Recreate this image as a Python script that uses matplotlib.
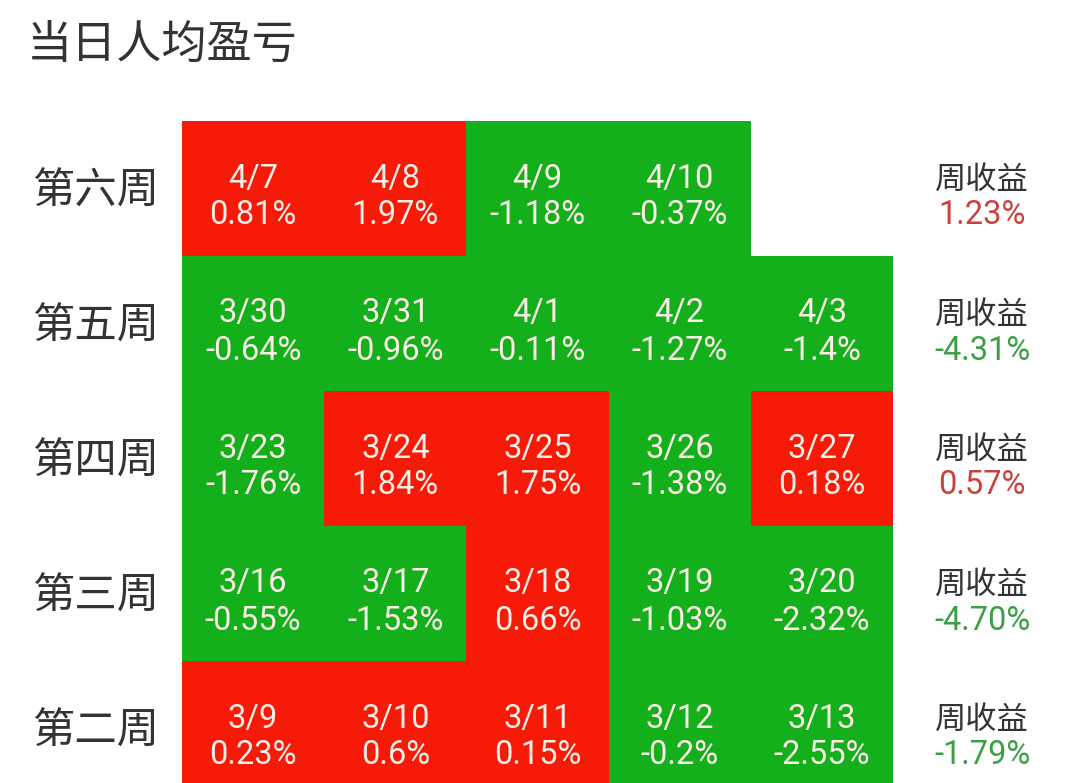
import matplotlib
matplotlib.use("Agg")
import matplotlib.pyplot as plt
import numpy as np
from matplotlib.colors import ListedColormap

plt.rcParams['font.family'] = ['Roboto', 'Noto Sans CJK SC', 'DejaVu Sans']

title = "当日人均盈亏"
weeks = ["第六周", "第五周", "第四周", "第三周", "第二周"]
dates = [
    ["4/7", "4/8", "4/9", "4/10", ""],
    ["3/30", "3/31", "4/1", "4/2", "4/3"],
    ["3/23", "3/24", "3/25", "3/26", "3/27"],
    ["3/16", "3/17", "3/18", "3/19", "3/20"],
    ["3/9", "3/10", "3/11", "3/12", "3/13"],
]
daily = [
    ["0.81", "1.97", "-1.18", "-0.37", None],
    ["-0.64", "-0.96", "-0.11", "-1.27", "-1.4"],
    ["-1.76", "1.84", "1.75", "-1.38", "0.18"],
    ["-0.55", "-1.53", "0.66", "-1.03", "-2.32"],
    ["0.23", "0.6", "0.15", "-0.2", "-2.55"],
]
weekly = ["1.23", "-4.31", "0.57", "-4.70", "-1.79"]
summary_label = "周收益"

RED = "#f81a08"
GREEN = "#14b01c"
TXT_RED = "#c9413b"
TXT_GREEN = "#3c9f45"
CELL_TXT = "#fbeee6"
DARK = "#333333"

W, H = 1080, 783
fig = plt.figure(figsize=(W / 100, H / 100), dpi=100)
fig.patch.set_facecolor("white")

# grid area in pixels
x0, x1 = 182, 893
y_top, row_h = 121, 135
nrows, ncols = len(weeks), 5
y_bot = y_top + nrows * row_h
ax = fig.add_axes([x0 / W, (H - y_bot) / H, (x1 - x0) / W, (y_bot - y_top) / H])
ax.set_xlim(0, ncols)
ax.set_ylim(nrows, 0)
ax.axis("off")

vals = np.array([[np.nan if v is None else float(v) for v in row] for row in daily])
sign = np.where(np.isnan(vals), np.nan, np.where(vals >= 0, 1.0, 0.0))
cmap = ListedColormap([GREEN, RED])
ax.pcolormesh(np.arange(ncols + 1), np.arange(nrows + 1), np.ma.masked_invalid(sign),
              cmap=cmap, vmin=0, vmax=1, edgecolors="none")

px = 1.0 / row_h  # data units per pixel vertically
col_w = (x1 - x0) / ncols
FS = 23.5
for r in range(nrows):
    for c in range(ncols):
        if daily[r][c] is None:
            continue
        ax.text(c + 0.5, r + 0.5 - 1 * px, dates[r][c], ha="center", va="baseline",
                fontsize=FS, color=CELL_TXT)
        ax.text(c + 0.5, r + 0.5 + 36 * px, daily[r][c] + "%", ha="center", va="baseline",
                fontsize=FS, color=CELL_TXT)
    # row label
    ax.text(-86 / col_w, r + 0.5 + 3 * px, weeks[r], ha="center", va="center",
            fontsize=30.5, color=DARK, clip_on=False, family=['Noto Sans CJK SC'])
    # weekly summary
    wx = ncols + (982 - x1) / col_w
    ax.text(wx, r + 0.5 + 1 * px, summary_label, ha="center", va="baseline",
            fontsize=22.5, color=DARK, clip_on=False, family=['Noto Sans CJK SC'])
    wcol = TXT_RED if float(weekly[r]) >= 0 else TXT_GREEN
    ax.text(wx, r + 0.5 + 36 * px, weekly[r] + "%", ha="center", va="baseline",
            fontsize=FS, color=wcol, clip_on=False)

fig.text(27 / W, 1 - 46 / H, title, ha="left", va="center", fontsize=32.5,
         color=DARK, family=['Noto Sans CJK SC'])

fig.savefig("out.png", dpi=100)
